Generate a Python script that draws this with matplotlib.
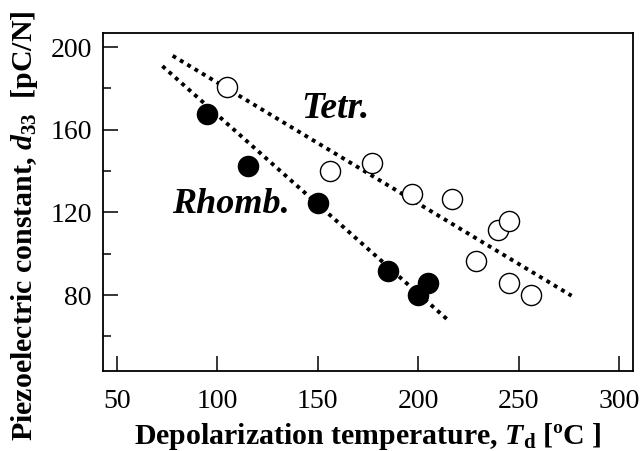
import numpy as np
import matplotlib.pyplot as plt
from matplotlib.ticker import MultipleLocator

plt.rcParams['font.family'] = ['Liberation Serif', 'DejaVu Serif']
plt.rcParams['mathtext.fontset'] = 'custom'
plt.rcParams['mathtext.rm'] = 'Liberation Serif:bold'
plt.rcParams['mathtext.it'] = 'Liberation Serif:italic:bold'
plt.rcParams['mathtext.bf'] = 'Liberation Serif:bold'

# Rhombohedral (filled) samples
rhomb_T = [95, 115, 150, 185, 200, 205]
rhomb_d = [167.5, 142.5, 124.6, 91.5, 80, 86]

# Tetragonal (open) samples
tetr_T = [105, 156, 177, 197, 217, 240, 245, 229, 245, 256]
tetr_d = [180.7, 140, 143.8, 128.8, 126.4, 111.3, 116, 96.3, 85.8, 80]

# dotted guide lines (end points)
tetr_fit_T = [77.7, 276.4]
tetr_fit_d = [195.8, 79.7]
rhomb_fit_T = [72.6, 214.2]
rhomb_fit_d = [190.8, 68.5]

x_ticks = [50, 100, 150, 200, 250, 300]
y_ticks = [80, 120, 160, 200]

fig = plt.figure(figsize=(6.41, 4.51), dpi=100)
ax = fig.add_axes([0.1607, 0.1774, 0.8268, 0.7494])

dots = dict(color='black', lw=2.8, linestyle=(0, (1, 1.2)), dash_capstyle='butt')
ax.plot(tetr_fit_T, tetr_fit_d, **dots)
ax.plot(rhomb_fit_T, rhomb_fit_d, **dots)

ax.plot(tetr_T, tetr_d, 'o', ms=14.5, mfc='white', mec='black', mew=1.0, ls='none')
ax.plot(rhomb_T, rhomb_d, 'o', ms=14.5, mfc='black', mec='black', mew=1.0, ls='none')

ax.text(142, 165.7, 'Tetr.', fontsize=27, fontweight='bold', fontstyle='italic',
        ha='left', va='baseline')
ax.text(77.4, 119.8, 'Rhomb.', fontsize=26, fontweight='bold', fontstyle='italic',
        ha='left', va='baseline')

ax.set_xlim(43, 307)
ax.set_ylim(43.3, 206.8)
ax.set_xticks(x_ticks)
ax.set_yticks(y_ticks)
ax.yaxis.set_minor_locator(MultipleLocator(20))

ax.tick_params(axis='both', which='major', direction='in', length=11, width=1.1,
               labelsize=20)
ax.tick_params(axis='x', pad=13)
ax.tick_params(axis='y', pad=8)
ax.tick_params(axis='y', which='minor', direction='in', length=5.5, width=1.1)
ax.tick_params(top=False, right=False)
for s in ax.spines.values():
    s.set_linewidth(1.3)

ax.set_xlabel('Depolarization temperature, $\\mathit{T}_{\\mathrm{d}}$ [ºC ]',
              fontsize=21.5, fontweight='bold', labelpad=5)
ax.set_ylabel('Piezoelectric constant, $\\mathit{d}_{33}$  [pC/N]',
              fontsize=21.5, fontweight='bold')
ax.yaxis.set_label_coords(-0.118, 0.43)

fig.savefig('out.png', dpi=100)
